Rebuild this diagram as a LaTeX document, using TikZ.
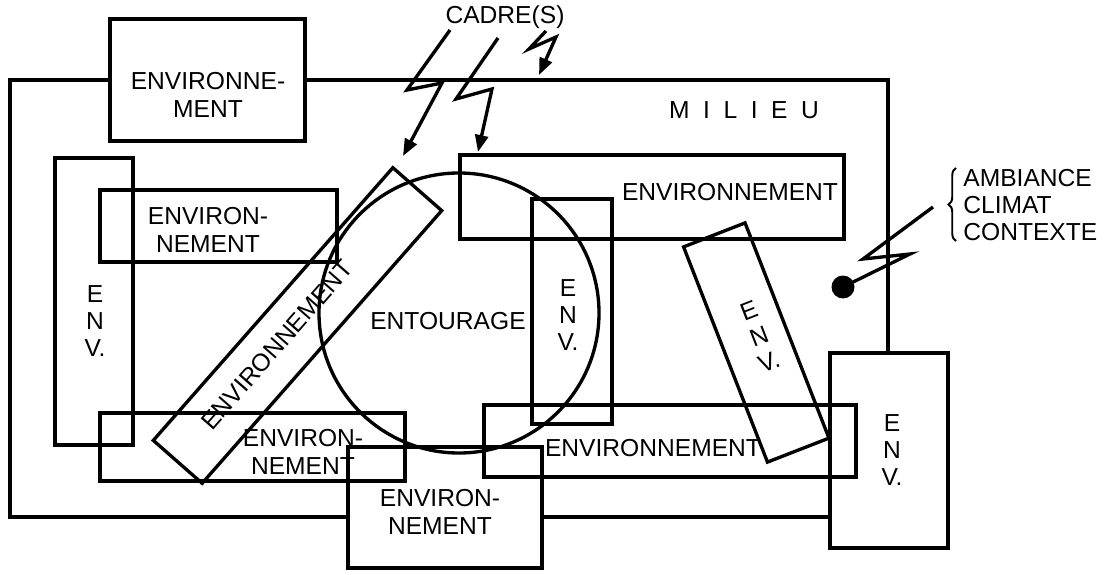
\documentclass[tikz,border=0pt]{standalone}
\usepackage{fontspec}
\setmainfont{Liberation Sans}
\usepackage{tikz}
\usetikzlibrary{arrows.meta,decorations.pathreplacing}
\tikzset{
  box/.style={line width=1.9pt},
  lbl/.style={font=\fontsize{14pt}{15.6pt}\selectfont, align=center, inner sep=0pt},
  bolt/.style={line width=1.9pt, -{Triangle[length=3.4mm,width=2.6mm]}},
  zig/.style={line width=1.9pt},
}
\newcommand{\spc}{\hspace{0.55em}}

\begin{document}
\begin{tikzpicture}[x=0.02cm,y=-0.02cm]
  \useasboundingbox (0,0) rectangle (1104,574);
  % milieu, hidden behind the boxes on its border
  \draw[box] (10,80) rectangle (888,517);
  \fill[white] (110,19) rectangle (305,141);
  \fill[white] (348,447) rectangle (542,568);
  \fill[white] (830,353) rectangle (948,548);
  \node[lbl] (milieu) at (744,110) {M\spc I\spc L\spc I\spc E\spc U};
  % entourage
  \draw[box] (459,313) circle (140);
  \node[lbl] (entourage) at (448,321) {ENTOURAGE};
  % environnements
  \draw[box] (110,19) rectangle (305,141);
  \node[lbl] (envtop) at (208,95) {ENVIRONNE-\\MENT};
  \draw[box] (55,158) rectangle (133,445);
  \node[lbl] (envleft) at (95,321) {E\\N\\V.};
  \draw[box] (100,190) rectangle (337,262);
  \node[lbl] (envul) at (208,230) {ENVIRON-\\NEMENT};
  \draw[box] (100,413) rectangle (405,481);
  \node[lbl] (envbl) at (303,452) {ENVIRON-\\NEMENT};
  \draw[box] (348,447) rectangle (542,568);
  \node[lbl] (envbot) at (440,512) {ENVIRON-\\NEMENT};
  \draw[box] (460,155) rectangle (844,239);
  \node[lbl] (envtr) at (730,192) {ENVIRONNEMENT};
  \draw[box] (532,199) rectangle (612,424);
  \node[lbl] (envmid) at (568,315) {E\\N\\V.};
  \draw[box] (484,405) rectangle (856,477);
  \node[lbl] (envbm) at (653,448) {ENVIRONNEMENT};
  \draw[box] (830,353) rectangle (948,548);
  \node[lbl] (envright) at (892,450) {E\\N\\V.};
  \begin{scope}[shift={(297.5,325.5)}, rotate=48.7]
    \draw[box] (-181.5,-32.5) rectangle (181.5,32.5);
  \end{scope}
  \node[lbl, rotate=48.7] (envdiag) at (277,345) {ENVIRONNEMENT};
  \begin{scope}[shift={(756.25,342.5)}, rotate=21.3]
    \draw[box] (-33,-115.5) rectangle (33,115.5);
  \end{scope}
  \node[lbl, rotate=21.3] (envtilt) at (759,336) {E\\N\\V.};
  % cadre(s)
  \node[lbl] (cadre) at (505,17) {CADRE(S)};
  \coordinate (c1a) at (450,30);
  \coordinate (c1b) at (403,156);
  \coordinate (c2a) at (498,38);
  \coordinate (c2b) at (478,152);
  \coordinate (c3a) at (546,31);
  \coordinate (c3b) at (539,75);
  \draw[bolt] (c1a) -- (407,90) -- (442,83) -- (c1b);
  \draw[bolt] (c2a) -- (456,99) -- (492,89) -- (c2b);
  \draw[bolt] (c3a) -- (529,49) -- (556,37) -- (c3b);
  % ambiance
  \node[circle, fill, inner sep=0pt, minimum size=0.46cm] (dot) at (843,287) {};
  \coordinate (zend) at (933,207);
  \draw[zig] (dot.center) -- (910,254) -- (863,259) -- (zend);
  \draw[line width=1.1pt, decorate, decoration={brace, amplitude=0.15cm}]
    (956,241) -- (956,168);
  \node[lbl, align=left, anchor=west] (ambiance) at (963,205) {AMBIANCE\\CLIMAT\\CONTEXTE};
\end{tikzpicture}
\end{document}
